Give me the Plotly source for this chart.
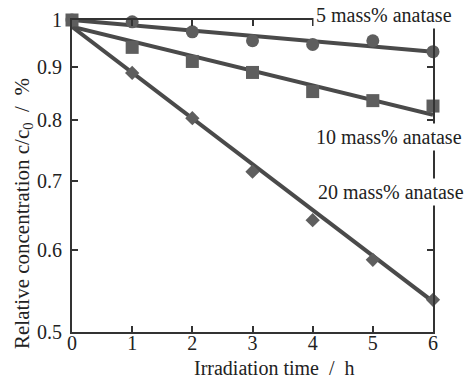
import plotly.graph_objects as go

# Data
time_h = [0, 1, 2, 3, 4, 5, 6]
c5 = [1.0, 0.996, 0.974, 0.955, 0.947, 0.955, 0.932]
c10 = [1.0, 0.941, 0.912, 0.890, 0.853, 0.836, 0.826]
c20 = [1.0, 0.889, 0.804, 0.714, 0.641, 0.587, 0.537]

fit_t = [0, 6]
fit5 = [1.0, 0.932]
fit10 = [0.985, 0.810]
fit20 = [0.985, 0.535]

x_ticks = [0, 1, 2, 3, 4, 5, 6]
y_ticks = [0.5, 0.6, 0.7, 0.8, 0.9, 1.0]
y_ticktext = ["0.5", "0.6", "0.7", "0.8", "0.9", "1"]

labels = ["5 mass% anatase", "10 mass% anatase", "20 mass% anatase"]

FONT = "Liberation Serif, Times New Roman, serif"
LINE_C = "#4a4a4a"
MARK_C = "#5e5e5e"

fig = go.Figure()

for fy in [fit5, fit10, fit20]:
    fig.add_trace(go.Scatter(x=fit_t, y=fy, mode="lines",
                             line=dict(color=LINE_C, width=4),
                             cliponaxis=False, showlegend=False, hoverinfo="skip"))

fig.add_trace(go.Scatter(x=time_h[1:], y=c20[1:], mode="markers",
                         marker=dict(symbol="diamond", size=11, color=MARK_C),
                         cliponaxis=False, showlegend=False))
fig.add_trace(go.Scatter(x=time_h, y=c5, mode="markers",
                         marker=dict(symbol="circle", size=13, color=MARK_C),
                         cliponaxis=False, showlegend=False))
fig.add_trace(go.Scatter(x=time_h, y=c10, mode="markers",
                         marker=dict(symbol="square", size=13, color=MARK_C),
                         cliponaxis=False, showlegend=False))

axis_common = dict(showline=True, linecolor="#333", linewidth=2, mirror="ticks",
                   ticks="inside", ticklen=6, tickwidth=2, tickcolor="#333",
                   showgrid=False, zeroline=False, automargin=False,
                   tickfont=dict(family=FONT, size=20, color="#222"))

fig.update_xaxes(range=[0, 6], tickvals=x_ticks, ticklabelstandoff=-8, **axis_common)
fig.update_yaxes(type="log", range=[-0.30103, 0], tickvals=y_ticks, ticktext=y_ticktext,
                 ticklabelstandoff=4, **axis_common)

ann_font = dict(family=FONT, size=20, color="#222")
fig.add_annotation(text=labels[0], xref="paper", yref="paper", x=0.668, y=1.016,
                   xanchor="left", yanchor="middle", showarrow=False,
                   font=ann_font, bgcolor="white", borderpad=2)
fig.add_annotation(text=labels[1], xref="paper", yref="paper", x=0.668, y=(332 - 137) / 312,
                   xanchor="left", yanchor="middle", showarrow=False,
                   font=ann_font, bgcolor="white", borderpad=2)
fig.add_annotation(text=labels[2], xref="paper", yref="paper", x=0.674, y=(332 - 192) / 312,
                   xanchor="left", yanchor="middle", showarrow=False,
                   font=ann_font, bgcolor="white", borderpad=2)

# Axis titles
fig.add_annotation(text="Irradiation time  /  h", xref="paper", yref="paper",
                   x=(274 - 72) / 361, y=(332 - 368) / 312, xanchor="center", yanchor="middle",
                   showarrow=False, font=ann_font)
fig.add_annotation(text="Relative concentration c/c<sub>0</sub>  /  %", xref="paper", yref="paper",
                   x=(23 - 72) / 361, y=(332 - 214) / 312, xanchor="center", yanchor="middle",
                   textangle=-90, showarrow=False, font=dict(family=FONT, size=21, color="#222"))

fig.update_layout(width=465, height=380, margin=dict(l=72, r=32, t=20, b=48),
                  paper_bgcolor="white", plot_bgcolor="white", showlegend=False)

fig.write_html("out.html", config={"displayModeBar": False},
               post_script="document.body.style.margin='0';")
